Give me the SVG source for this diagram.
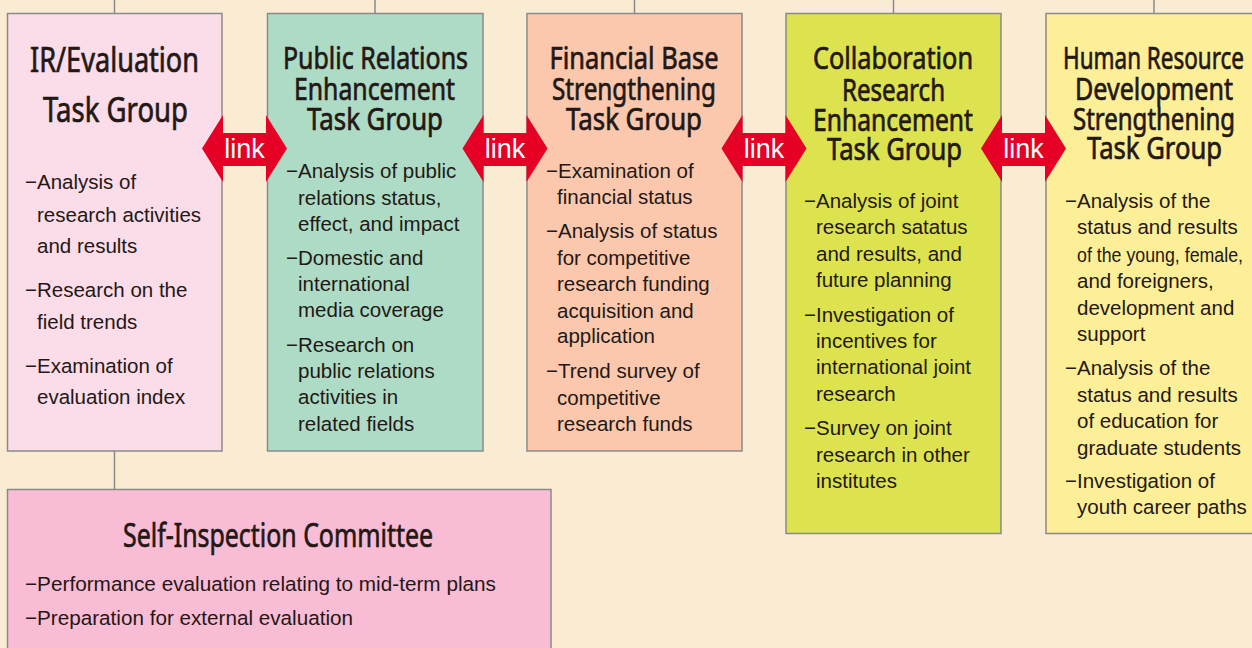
<svg xmlns="http://www.w3.org/2000/svg" width="1252" height="648" viewBox="0 0 1252 648">
<defs>
<style>
.bg{fill:#FAEBD3}
.box{stroke:#8A8A8A;stroke-width:1.5}
.t{font-family:"Noto Sans","Open Sans",sans-serif;fill:#231815;stroke:#231815;stroke-width:0.7;text-anchor:middle}
.b{font-family:"Liberation Sans",Arial,sans-serif;font-size:20.5px;fill:#231815}
.ln{stroke:#8A8A8A;stroke-width:1.5;fill:none}
.arr{fill:#E60026}
.lk{font-family:"Liberation Sans",Arial,sans-serif;font-size:27px;fill:#FFFFFF;text-anchor:middle}
</style>
<path id="arrow" d="M-42.5,0 L-21.5,-33.5 L-21.5,-15.5 L21.5,-15.5 L21.5,-33.5 L42.5,0 L21.5,33.5 L21.5,17.5 L-21.5,17.5 L-21.5,33.5 Z"/>
</defs>
<rect class="bg" x="0" y="0" width="1252" height="648"/>

<g id="connectors">
<line class="ln" x1="114.5" y1="0" x2="114.5" y2="13"/>
<line class="ln" x1="375" y1="0" x2="375" y2="13"/>
<line class="ln" x1="634.5" y1="0" x2="634.5" y2="13"/>
<line class="ln" x1="893.5" y1="0" x2="893.5" y2="13"/>
<line class="ln" x1="1154" y1="0" x2="1154" y2="13"/>
<line class="ln" x1="114.5" y1="451" x2="114.5" y2="489"/>
</g>

<g id="ir-eval">
<rect class="box" x="7.5" y="13.5" width="214.5" height="437.5" fill="#FBDCE9"/>
<text class="t" x="114.5" y="72" font-size="35" textLength="169" lengthAdjust="spacingAndGlyphs">IR/Evaluation</text>
<text class="t" x="115.5" y="122" font-size="35" textLength="145" lengthAdjust="spacingAndGlyphs">Task Group</text>
<text class="b" x="25" y="189">−Analysis of</text>
<text class="b" x="37" y="222">research activities</text>
<text class="b" x="37" y="253">and results</text>
<text class="b" x="25" y="297">−Research on the</text>
<text class="b" x="37" y="329">field trends</text>
<text class="b" x="25" y="373">−Examination of</text>
<text class="b" x="37" y="404">evaluation index</text>
</g>

<g id="public-relations">
<rect class="box" x="267.5" y="13.5" width="215.5" height="437.5" fill="#ADDBC5"/>
<text class="t" x="375.5" y="69" font-size="31" textLength="185" lengthAdjust="spacingAndGlyphs">Public Relations</text>
<text class="t" x="374.5" y="100" font-size="31" textLength="161" lengthAdjust="spacingAndGlyphs">Enhancement</text>
<text class="t" x="375" y="130" font-size="31" textLength="136" lengthAdjust="spacingAndGlyphs">Task Group</text>
<text class="b" x="286" y="178">−Analysis of public</text>
<text class="b" x="298" y="205">relations status,</text>
<text class="b" x="298" y="231">effect, and impact</text>
<text class="b" x="286" y="265">−Domestic and</text>
<text class="b" x="298" y="291">international</text>
<text class="b" x="298" y="317">media coverage</text>
<text class="b" x="286" y="352">−Research on</text>
<text class="b" x="298" y="378">public relations</text>
<text class="b" x="298" y="404">activities in</text>
<text class="b" x="298" y="431">related fields</text>
</g>

<g id="financial-base">
<rect class="box" x="527" y="13.5" width="215" height="437.5" fill="#FCC8AD"/>
<text class="t" x="634" y="69" font-size="31" textLength="169" lengthAdjust="spacingAndGlyphs">Financial Base</text>
<text class="t" x="634" y="100" font-size="31" textLength="164" lengthAdjust="spacingAndGlyphs">Strengthening</text>
<text class="t" x="634" y="130" font-size="31" textLength="136" lengthAdjust="spacingAndGlyphs">Task Group</text>
<text class="b" x="546" y="178">−Examination of</text>
<text class="b" x="557" y="204">financial status</text>
<text class="b" x="546" y="238">−Analysis of status</text>
<text class="b" x="557" y="265">for competitive</text>
<text class="b" x="557" y="291">research funding</text>
<text class="b" x="557" y="318">acquisition and</text>
<text class="b" x="557" y="343">application</text>
<text class="b" x="546" y="378">−Trend survey of</text>
<text class="b" x="557" y="405">competitive</text>
<text class="b" x="557" y="431">research funds</text>
</g>

<g id="collaboration">
<rect class="box" x="786" y="13.5" width="215" height="520" fill="#DCE34F"/>
<text class="t" x="893" y="69" font-size="31" textLength="160" lengthAdjust="spacingAndGlyphs">Collaboration</text>
<text class="t" x="893.5" y="101" font-size="31" textLength="103" lengthAdjust="spacingAndGlyphs">Research</text>
<text class="t" x="893" y="131" font-size="31" textLength="160" lengthAdjust="spacingAndGlyphs">Enhancement</text>
<text class="t" x="894.5" y="160" font-size="31" textLength="135" lengthAdjust="spacingAndGlyphs">Task Group</text>
<text class="b" x="804" y="208">−Analysis of joint</text>
<text class="b" x="816" y="234">research satatus</text>
<text class="b" x="816" y="261">and results, and</text>
<text class="b" x="816" y="287">future planning</text>
<text class="b" x="804" y="322">−Investigation of</text>
<text class="b" x="816" y="348">incentives for</text>
<text class="b" x="816" y="374">international joint</text>
<text class="b" x="816" y="401">research</text>
<text class="b" x="804" y="435">−Survey on joint</text>
<text class="b" x="816" y="462">research in other</text>
<text class="b" x="816" y="488">institutes</text>
</g>

<g id="human-resource">
<rect class="box" x="1046" y="13.5" width="208" height="520" fill="#FDEE98"/>
<text class="t" x="1153.5" y="69" font-size="31" textLength="181" lengthAdjust="spacingAndGlyphs">Human Resource</text>
<text class="t" x="1154" y="100" font-size="31" textLength="158" lengthAdjust="spacingAndGlyphs">Development</text>
<text class="t" x="1154" y="130" font-size="31" textLength="162" lengthAdjust="spacingAndGlyphs">Strengthening</text>
<text class="t" x="1154.5" y="159" font-size="31" textLength="135" lengthAdjust="spacingAndGlyphs">Task Group</text>
<text class="b" x="1065" y="208">−Analysis of the</text>
<text class="b" x="1077" y="234">status and results</text>
<text class="b" x="1077" y="262" textLength="166" lengthAdjust="spacingAndGlyphs">of the young, female,</text>
<text class="b" x="1077" y="288">and foreigners,</text>
<text class="b" x="1077" y="315">development and</text>
<text class="b" x="1077" y="341">support</text>
<text class="b" x="1065" y="375">−Analysis of the</text>
<text class="b" x="1077" y="402">status and results</text>
<text class="b" x="1077" y="428">of education for</text>
<text class="b" x="1077" y="455">graduate students</text>
<text class="b" x="1065" y="488">−Investigation of</text>
<text class="b" x="1077" y="514">youth career paths</text>
</g>

<g id="self-inspection">
<rect class="box" x="7.5" y="489.5" width="543.5" height="170" fill="#F9BCD5"/>
<text class="t" x="278" y="547" font-size="33" textLength="310" lengthAdjust="spacingAndGlyphs">Self-Inspection Committee</text>
<text class="b" x="25" y="591" textLength="471" lengthAdjust="spacingAndGlyphs">−Performance evaluation relating to mid-term plans</text>
<text class="b" x="25" y="625" textLength="328" lengthAdjust="spacingAndGlyphs">−Preparation for external evaluation</text>
</g>

<g id="links">
<g transform="translate(244.5,148.5)"><use href="#arrow" class="arr"/><text class="lk" x="0" y="9">link</text></g>
<g transform="translate(505,148.5)"><use href="#arrow" class="arr"/><text class="lk" x="0" y="9">link</text></g>
<g transform="translate(764,148.5)"><use href="#arrow" class="arr"/><text class="lk" x="0" y="9">link</text></g>
<g transform="translate(1023.5,148.5)"><use href="#arrow" class="arr"/><text class="lk" x="0" y="9">link</text></g>
</g>
</svg>
